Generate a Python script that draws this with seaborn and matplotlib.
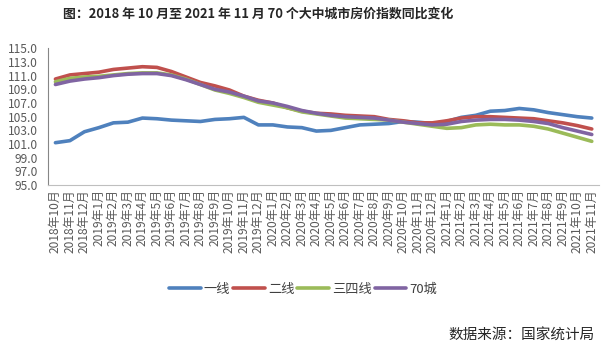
import pandas as pd
import seaborn as sns
import matplotlib.pyplot as plt

sns.set_style('white')
plt.rcParams['font.family'] = ['Noto Sans CJK SC', 'DejaVu Sans']
plt.rcParams['axes.unicode_minus'] = False

# months 2018-10 .. 2021-11
months = []
y, m = 2018, 10
while (y, m) <= (2021, 11):
    months.append(f'{y}年{m}月')
    m += 1
    if m > 12:
        y, m = y + 1, 1

# year-on-year index values
tier1 = [101.2, 101.5, 102.8, 103.4, 104.1, 104.2, 104.8, 104.7, 104.5, 104.4,
         104.3, 104.6, 104.7, 104.9, 103.8, 103.8, 103.5, 103.4, 102.9, 103.0,
         103.4, 103.8, 103.9, 104.0, 104.3, 104.2, 104.0, 104.3, 104.9, 105.2,
         105.8, 105.9, 106.2, 106.0, 105.6, 105.3, 105.0, 104.8]
tier2 = [110.5, 111.1, 111.3, 111.5, 111.9, 112.1, 112.3, 112.2, 111.6, 110.8,
         110.0, 109.5, 108.9, 108.0, 107.4, 107.0, 106.3, 105.8, 105.5, 105.4,
         105.2, 105.1, 105.0, 104.6, 104.4, 104.1, 104.1, 104.4, 104.8, 105.0,
         105.0, 104.9, 104.8, 104.7, 104.4, 104.1, 103.7, 103.2]
tier34 = [110.1, 110.6, 110.8, 110.9, 111.1, 111.3, 111.4, 111.4, 111.1, 110.5,
          109.7, 108.9, 108.4, 107.8, 107.1, 106.7, 106.3, 105.7, 105.4, 105.1,
          104.8, 104.7, 104.6, 104.5, 104.2, 103.9, 103.6, 103.3, 103.4, 103.8,
          103.9, 103.8, 103.8, 103.6, 103.2, 102.6, 102.0, 101.4]
city70 = [109.7, 110.2, 110.5, 110.7, 111.0, 111.2, 111.3, 111.3, 111.0, 110.4,
          109.7, 109.0, 108.6, 108.0, 107.3, 107.0, 106.5, 105.9, 105.5, 105.2,
          105.0, 104.9, 104.8, 104.5, 104.2, 104.0, 103.8, 103.9, 104.3, 104.5,
          104.6, 104.6, 104.5, 104.3, 104.0, 103.4, 102.9, 102.4]

series = {'一线': tier1, '二线': tier2, '三四线': tier34, '70城': city70}
colors = ['#4F81BD', '#C0504D', '#9BBB59', '#8064A2']

rows = []
for name, vals in series.items():
    for i, v in enumerate(vals):
        rows.append({'idx': i, 'value': v, 'group': name})
df = pd.DataFrame(rows)

fig = plt.figure(figsize=(6.1, 3.52), dpi=100)
ax = fig.add_axes([0.079, 0.474, 0.903, 0.389])

sns.lineplot(data=df, x='idx', y='value', hue='group', palette=colors,
             linewidth=2.6, ax=ax, legend=True)

ax.set_xlim(-0.5, len(months) - 0.5)
ax.set_ylim(95, 115)
ax.set_yticks([95 + 2 * k for k in range(11)])
ax.set_yticklabels([f'{95 + 2 * k:.1f}' for k in range(11)])
ax.set_xticks(range(len(months)))
ax.set_xticklabels(months, rotation=90)
ax.set_xticks([k - 0.5 for k in range(len(months) + 1)], minor=True)
ax.tick_params(axis='x', which='major', length=0, pad=3, labelsize=8.6, colors='#595959')
ax.tick_params(axis='x', which='minor', length=4, color='#BFBFBF', width=0.8, direction='out')
ax.tick_params(axis='y', length=4, color='#868686', width=0.8, labelsize=8.6,
               colors='#595959', direction='out')
ax.tick_params(axis='y', color='#868686')
ax.set_xlabel('')
ax.set_ylabel('')
for s in ['top', 'right']:
    ax.spines[s].set_visible(False)
ax.spines['left'].set_color('#868686')
ax.spines['bottom'].set_color('#BFBFBF')
ax.spines['left'].set_linewidth(0.8)
ax.spines['bottom'].set_linewidth(0.8)

handles, labels = ax.get_legend_handles_labels()
ax.get_legend().remove()
fig.legend(handles, labels, loc='center', bbox_to_anchor=(0.497, 0.178), ncol=4,
           frameon=False, fontsize=9.5, handlelength=2.4, handletextpad=0.25,
           columnspacing=0.2, labelcolor='#404040')

fig.text(0.423, 0.962, '图：2018 年 10 月至 2021 年 11 月 70 个大中城市房价指数同比变化',
         ha='center', va='center', fontsize=9.3, fontweight='bold')
fig.text(0.975, 0.046, '数据来源：国家统计局', ha='right', va='center', fontsize=10.5)

fig.savefig('out.png', dpi=100, facecolor='white')
